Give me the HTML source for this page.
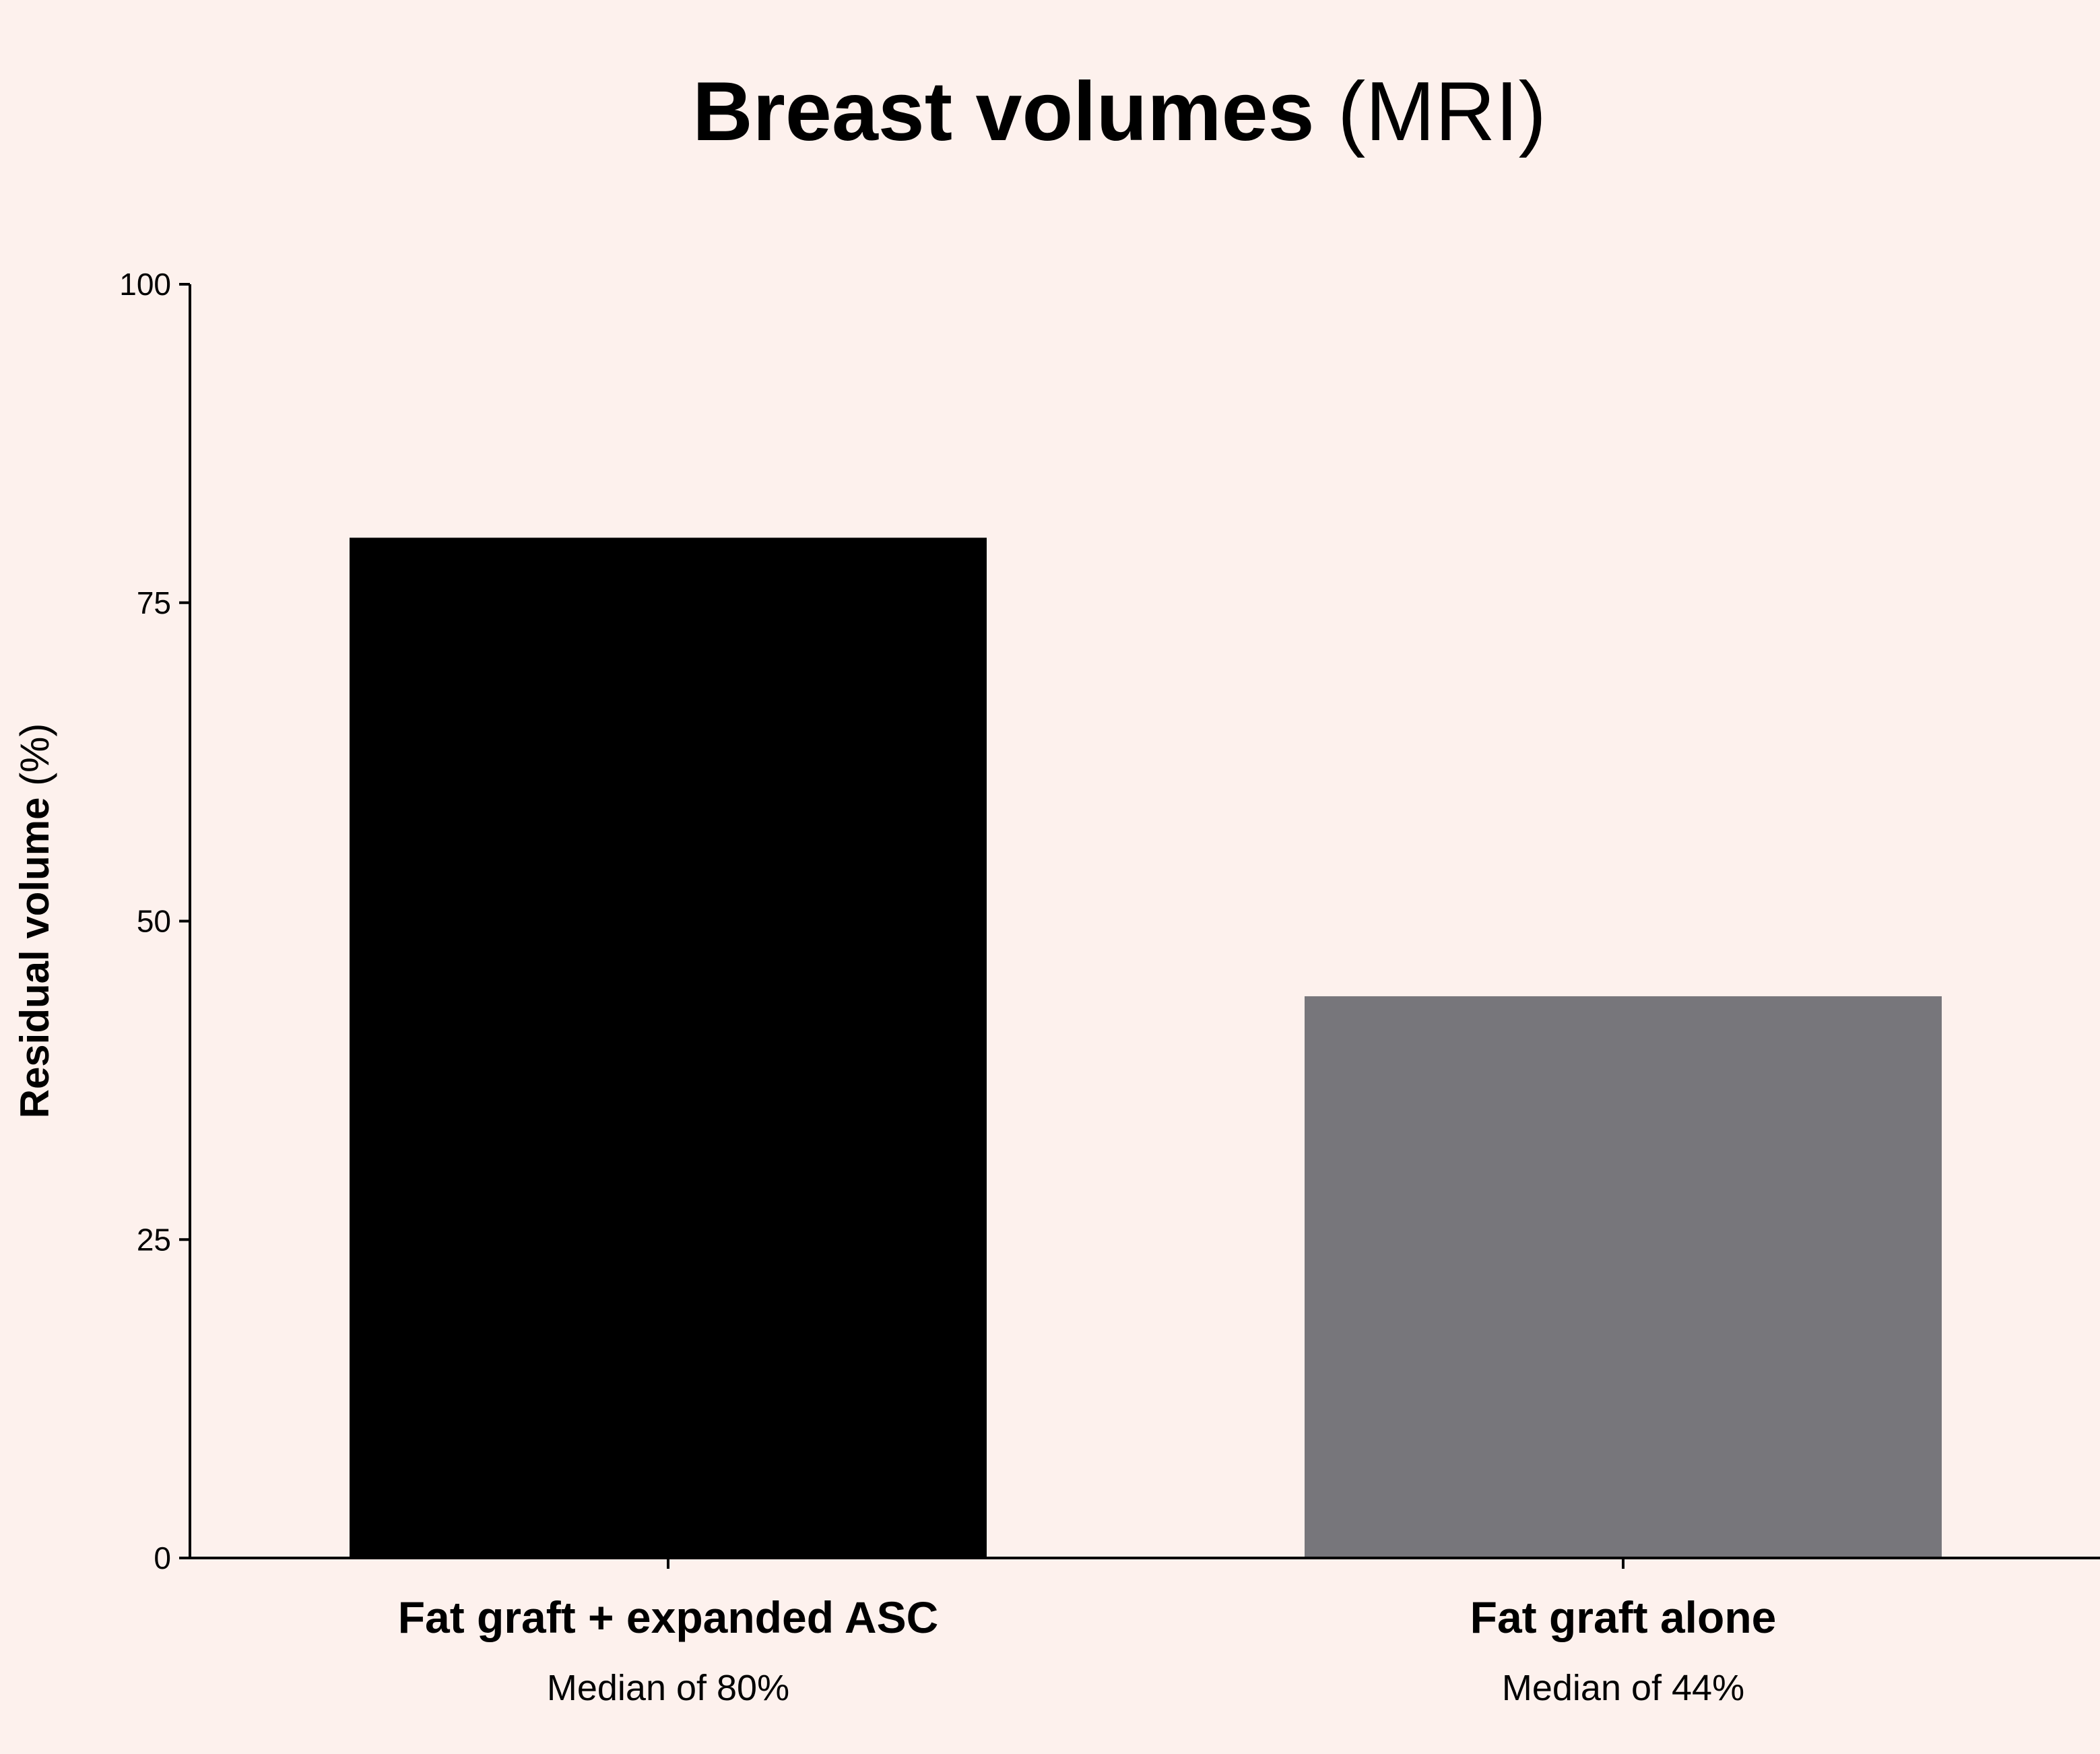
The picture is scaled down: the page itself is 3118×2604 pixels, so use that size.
<!DOCTYPE html>
<html><head><meta charset="utf-8"><style>
body{margin:0;background:#fdf1ed;}
svg{display:block;font-family:"Liberation Sans",sans-serif;}
</style></head><body>
<svg id="chart" width="3118" height="2604" viewBox="0 0 3118 2604">
<rect width="3118" height="2604" fill="#fdf1ed"/>
<text x="1662" y="208" text-anchor="middle" font-size="124"><tspan font-weight="bold">Breast volumes</tspan> (MRI)</text>
<text transform="translate(72,1367) rotate(-90)" text-anchor="middle" font-size="60"><tspan font-weight="bold">Residual volume</tspan> (%)</text>
<g id="plot"></g>
</svg>
<script>
const categories=["Fat graft + expanded ASC","Fat graft alone"];
const subLabels=["Median of 80%","Median of 44%"];
const values=[80.1,44.1];
const yTicks=[0,25,50,75,100];
const colors=["#000000","#77767b"];
const NS="http://www.w3.org/2000/svg";
const g=document.getElementById('plot');
const x0=282,x1=3118,yTop=422,yBot=2313;
const y=v=>yBot-(v/100)*(yBot-yTop);
const centers=[992,2410],bw=946;
function mk(t,a){const e=document.createElementNS(NS,t);for(const k in a)e.setAttribute(k,a[k]);g.appendChild(e);return e;}
values.forEach((v,i)=>{
 const r=mk('rect',{x:centers[i]-bw/2,y:y(v),width:bw,height:yBot-y(v),fill:colors[i]});
 
 
 const t=mk('line',{x1:centers[i],x2:centers[i],y1:yBot,y2:yBot+16,stroke:'#000','stroke-width':4});
 
 
 const l=mk('text',{x:centers[i],y:2424,'text-anchor':'middle','font-size':66,'font-weight':'bold'});
 l.textContent=categories[i];
 
 
 const s=mk('text',{x:centers[i],y:2524,'text-anchor':'middle','font-size':54});
 s.textContent=subLabels[i];
 
 
});
yTicks.forEach(v=>{
 const t=mk('line',{x1:x0-16,x2:x0,y1:y(v),y2:y(v),stroke:'#000','stroke-width':4});
 
 
 const l=mk('text',{x:x0-28,y:y(v)+16,'text-anchor':'end','font-size':46});
 l.textContent=v;
 
 
});
const ya=mk('line',{x1:x0,x2:x0,y1:yTop,y2:yBot+2,stroke:'#000','stroke-width':4});


const xa=mk('line',{x1:x0-2,x2:x1,y1:yBot,y2:yBot,stroke:'#000','stroke-width':4});


</script>
</body></html>
